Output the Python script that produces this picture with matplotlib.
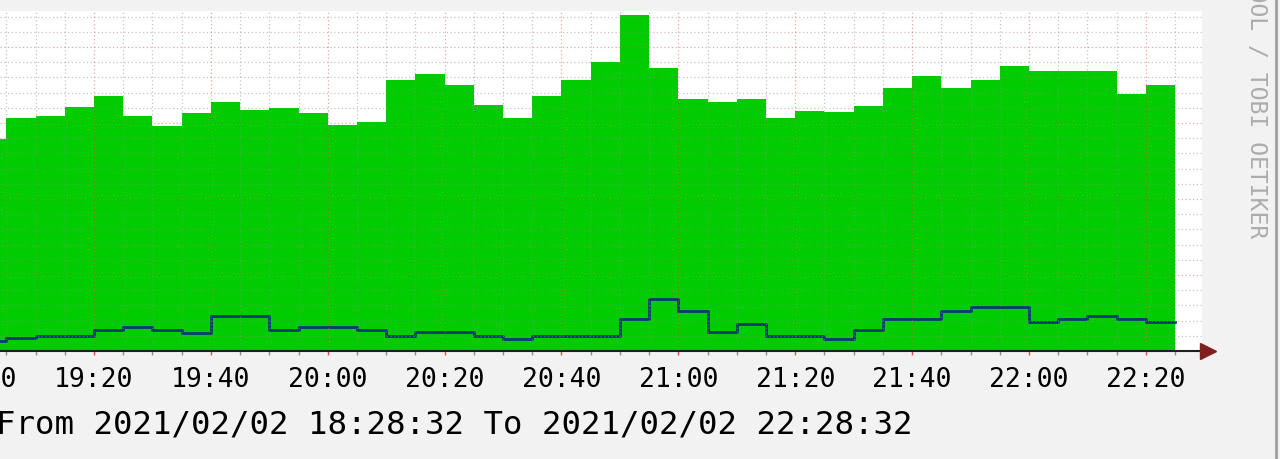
import matplotlib
matplotlib.use("Agg")
import matplotlib.pyplot as plt
import matplotlib.dates as mdates
from matplotlib.ticker import MultipleLocator
from matplotlib.lines import Line2D
import pandas as pd
import numpy as np

# 5 minute averages, first bucket starts 19:00
start = "2021-02-02 19:00"
step = "5min"

inbound = [139.5, 153.0, 154.6, 160.5, 167.8, 154.6, 148.0, 156.6, 163.8, 158.6,
           159.9, 156.6, 148.7, 150.7, 178.3, 182.2, 175.0, 161.8, 153.3, 167.8,
           178.3, 190.1, 221.1, 186.2, 165.8, 163.8, 165.8, 153.3, 158.1, 157.0,
           161.4, 172.8, 180.6, 173.0, 178.3, 187.5, 184.2, 184.2, 184.2, 169.1,
           175.0]
outbound = [6.8, 8.4, 10.1, 10.1, 13.8, 15.6, 13.8, 11.8, 22.8, 22.8,
            13.8, 15.6, 15.6, 13.8, 10.1, 12.3, 12.3, 10.1, 7.9, 10.1,
            10.1, 10.1, 21.1, 34.2, 26.5, 12.3, 17.8, 10.1, 10.1, 7.9,
            14.0, 21.1, 21.1, 26.5, 28.8, 28.8, 19.3, 21.1, 22.8, 21.1,
            19.3]

title_text = "From 2021/02/02 18:28:32 To 2021/02/02 22:28:32"
watermark = "RRDTOOL / TOBI OETIKER"

# rrdtool default colours
BACK = "#f2f2f2"
AREA = "#00cc00"
LINE = "#0b3b6e"
GRID = (0.56, 0.56, 0.56)
MGRID = (0.87, 0.31, 0.31)
ARROW = "#801f1f"
AXIS = "#1f1f1f"

t = pd.date_range(start, periods=len(inbound) + 1, freq=step)
t0 = t[0]
in_ext = inbound + [inbound[-1]]
out_ext = outbound + [outbound[-1]]

W, H = 1280, 460
fig = plt.figure(figsize=(W / 100, H / 100), dpi=100, facecolor=BACK)
ax = fig.add_axes([0, 108 / H, 1202 / W, 340 / H])
ax.set_facecolor("white")

ax.fill_between(t, in_ext, step="post", color=AREA, lw=0, zorder=1)
ax.step(t, out_ext, where="post", color=LINE, lw=2.0, zorder=2)

px_per_min = 5.844
ax.set_xlim(t0 + pd.Timedelta(minutes=22.9 / px_per_min),
            t0 + pd.Timedelta(minutes=(1202 + 22.9) / px_per_min))
ax.set_ylim(0, 340 * 50 / 76)

ax.xaxis.set_major_locator(mdates.MinuteLocator(byminute=[0, 20, 40]))
ax.xaxis.set_minor_locator(mdates.MinuteLocator(byminute=range(0, 60, 5)))
ax.xaxis.set_major_formatter(mdates.DateFormatter("%H:%M"))
ax.yaxis.set_major_locator(MultipleLocator(50))
ax.yaxis.set_minor_locator(MultipleLocator(10))

ax.set_axisbelow(False)
ax.grid(which="minor", color=GRID, alpha=0.5, ls=(0, (1, 2)), lw=0.9)
ax.grid(which="major", color=MGRID, alpha=0.5, ls=(0, (1, 2)), lw=0.9)

for s in ax.spines.values():
    s.set_visible(False)
ax.tick_params(axis="y", which="both", left=False, labelleft=False)
ax.tick_params(axis="x", which="major", direction="out", length=3, width=1,
               color=MGRID, pad=8, labelsize=19)
ax.tick_params(axis="x", which="minor", direction="out", length=3, width=1,
               color=GRID)
for lab in ax.get_xticklabels():
    lab.set_fontfamily("DejaVu Sans Mono")

# 19:00 label sits mostly off the left edge
ax.annotate(t0.strftime("%H:%M"), xy=(t0, 0), xycoords=("data", "axes fraction"),
            xytext=(0, -11), textcoords="offset points", ha="center", va="top",
            fontsize=19, family="DejaVu Sans Mono", annotation_clip=False)

# x axis with arrow
ax.axhline(0, color=AXIS, lw=1.5, zorder=3, clip_on=False)
ax.plot([t0 + pd.Timedelta(minutes=(1208 + 22.9) / px_per_min)], [0], marker=">",
        ms=11, color=ARROW, clip_on=False, zorder=4)

fig.text(-4 / W, 35 / H, title_text, ha="left", va="center", fontsize=23.3,
         family="DejaVu Sans Mono")
fig.text(1257 / W, 1 - 238 / H, watermark, rotation=270, ha="center", va="bottom",
         fontsize=16.7, family="DejaVu Sans Mono", color="#acacac")
fig.add_artist(Line2D([1275.5 / W] * 2, [0, 1], color="#9e9e9e", lw=2))

fig.savefig("out.png", dpi=100, facecolor=fig.get_facecolor())
